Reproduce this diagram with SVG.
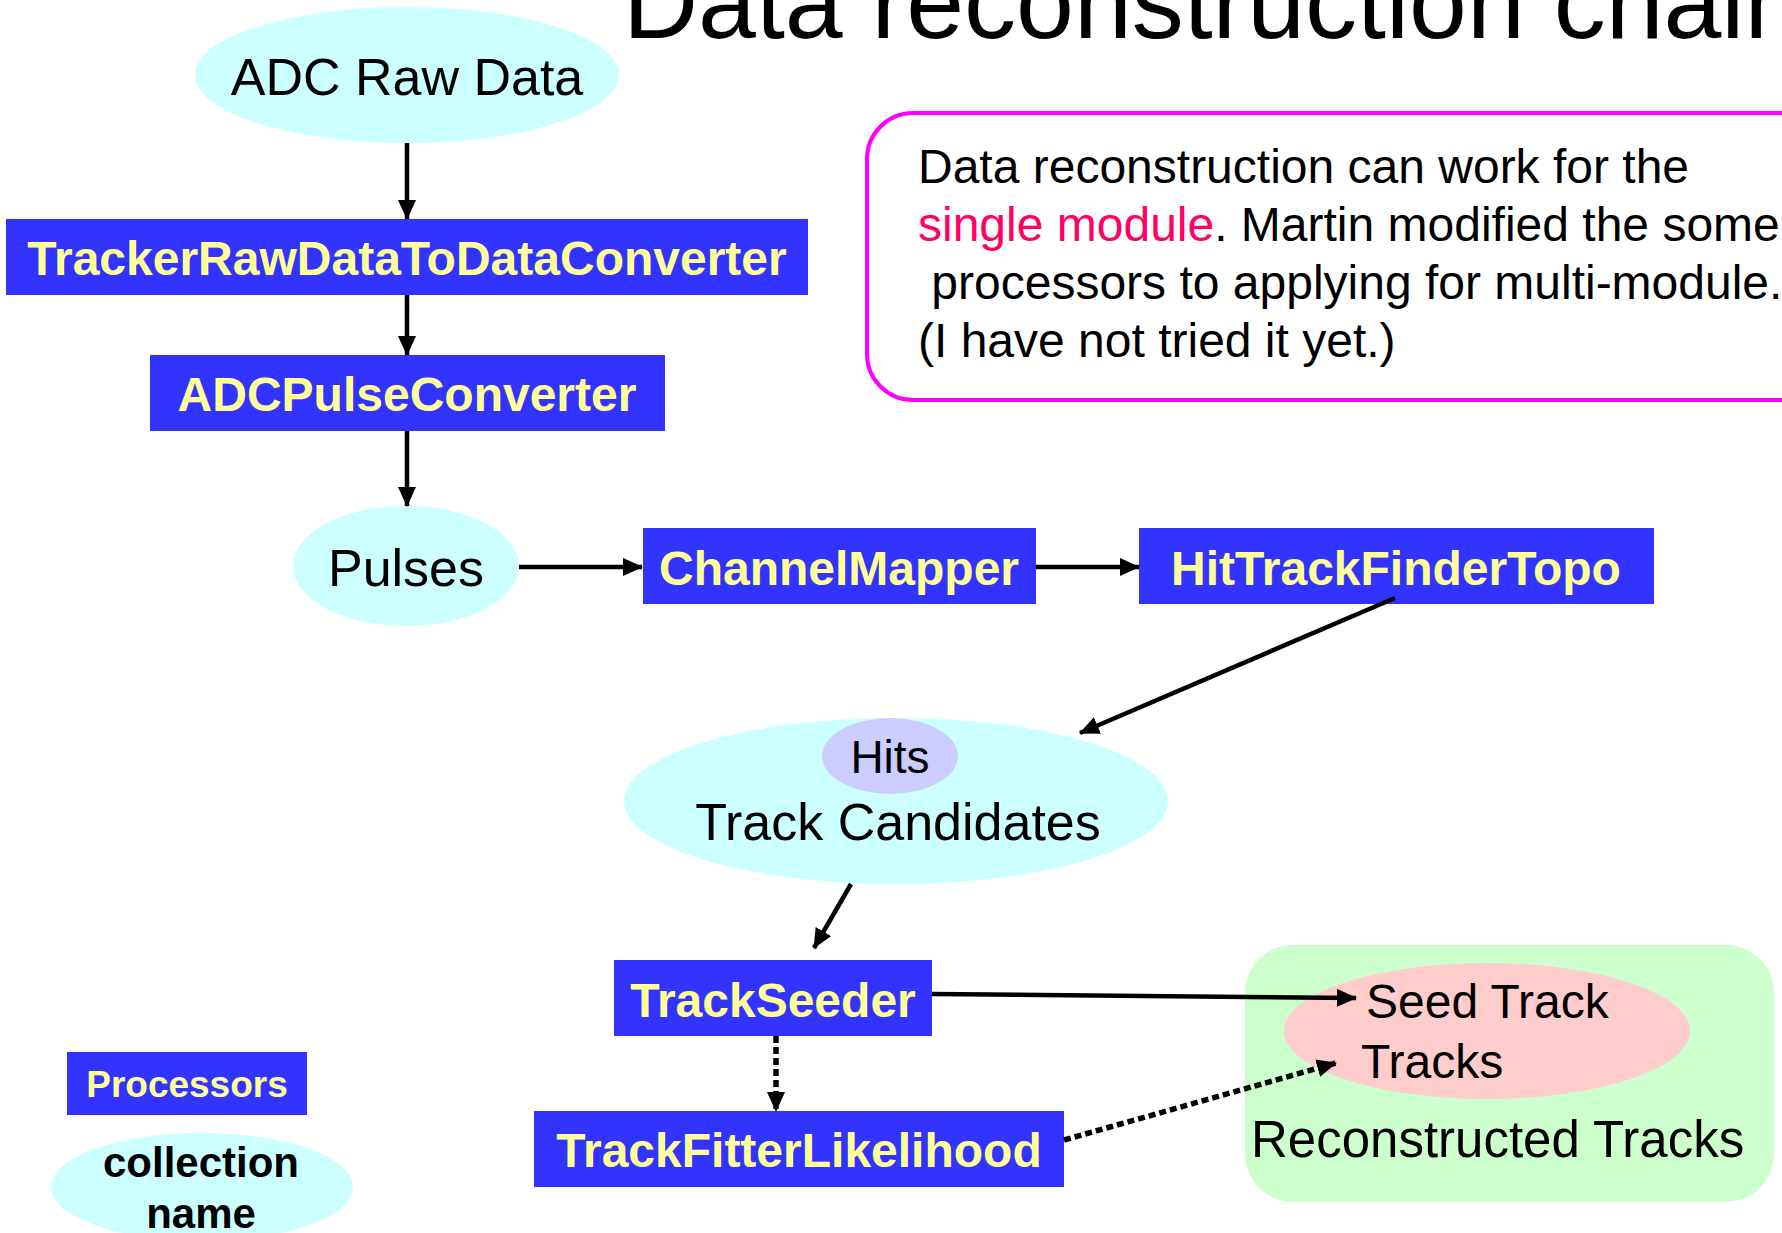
<svg xmlns="http://www.w3.org/2000/svg" width="1782" height="1233" viewBox="0 0 1782 1233">
<defs>
<style>
.proc{fill:#3333FF}
.ptxt{font-family:"Liberation Sans",Arial,sans-serif;font-weight:bold;fill:#FFFF99;text-anchor:middle}
.coll{fill:#CCFFFF}
.txt{font-family:"Liberation Sans",Arial,sans-serif;fill:#000}
.mid{text-anchor:middle}
.conn{stroke:#000;fill:none;stroke-width:4.5}
.dot{stroke-dasharray:7 4;stroke-width:5.5}
</style>
<marker id="ah" markerUnits="userSpaceOnUse" markerWidth="20" markerHeight="18" refX="19" refY="9" orient="auto">
<path d="M0,0 L20,9 L0,18 z" fill="#000"/>
</marker>
</defs>
<rect width="1782" height="1233" fill="#fff"/>

<text class="txt" x="623" y="38" font-size="104">Data reconstruction chain</text>

<g id="note">
<rect x="867" y="113" width="960" height="287" rx="46" ry="46" fill="#fff" stroke="#FF00FF" stroke-width="4"/>
<text class="txt" font-size="48">
<tspan x="918" y="183">Data reconstruction can work for the</tspan>
<tspan x="918" y="241"><tspan fill="#FF0066">single module</tspan>. Martin modified the some</tspan>
<tspan x="918" y="299" xml:space="preserve"> processors to applying for multi-module.</tspan>
<tspan x="918" y="357">(I have not tried it yet.)</tspan>
</text>
</g>

<g id="adc-raw-data">
<ellipse class="coll" cx="407" cy="75" rx="212" ry="68"/>
<text class="txt mid" x="407" y="95" font-size="52">ADC Raw Data</text>
</g>

<g id="tracker-raw">
<rect class="proc" x="6" y="219" width="802" height="76"/>
<text class="ptxt" x="407" y="275" font-size="48">TrackerRawDataToDataConverter</text>
</g>

<g id="adc-pulse">
<rect class="proc" x="150" y="355" width="515" height="76"/>
<text class="ptxt" x="407" y="411" font-size="48">ADCPulseConverter</text>
</g>

<g id="pulses">
<ellipse class="coll" cx="406" cy="566" rx="113" ry="60"/>
<text class="txt mid" x="406" y="586" font-size="52">Pulses</text>
</g>

<g id="channel-mapper">
<rect class="proc" x="643" y="528" width="393" height="76"/>
<text class="ptxt" x="839" y="585" font-size="48">ChannelMapper</text>
</g>

<g id="hit-track-finder">
<rect class="proc" x="1139" y="528" width="515" height="76"/>
<text class="ptxt" x="1396" y="585" font-size="48">HitTrackFinderTopo</text>
</g>

<g id="track-candidates">
<ellipse class="coll" cx="896" cy="801" rx="272" ry="83"/>
<ellipse cx="890" cy="756" rx="68" ry="38" fill="#CCCCFF"/>
<text class="txt mid" x="890" y="773" font-size="46">Hits</text>
<text class="txt mid" x="898" y="840" font-size="52">Track Candidates</text>
</g>

<g id="track-seeder">
<rect class="proc" x="614" y="960" width="318" height="76"/>
<text class="ptxt" x="773" y="1017" font-size="48">TrackSeeder</text>
</g>

<g id="track-fitter">
<rect class="proc" x="534" y="1111" width="530" height="76"/>
<text class="ptxt" x="799" y="1167" font-size="48">TrackFitterLikelihood</text>
</g>

<g id="reconstructed-tracks">
<rect x="1245" y="945" width="529" height="257" rx="48" ry="48" fill="#CCFFCC"/>
<ellipse cx="1487" cy="1031" rx="203" ry="68" fill="#FFCCCC"/>
<text class="txt" x="1366" y="1018" font-size="48">Seed Track</text>
<text class="txt" x="1361" y="1078" font-size="48">Tracks</text>
<text class="txt" x="1251" y="1157" font-size="51">Reconstructed Tracks</text>
</g>

<g id="legend-processors">
<rect class="proc" x="67" y="1052" width="240" height="63"/>
<text class="ptxt" x="187" y="1097" font-size="37">Processors</text>
</g>

<g id="legend-collection">
<ellipse class="coll" cx="202" cy="1187" rx="151" ry="54"/>
<text class="txt mid" x="201" y="1177" font-size="42" font-weight="bold">collection</text>
<text class="txt mid" x="201" y="1228" font-size="42" font-weight="bold">name</text>
</g>

<g id="connectors">
<line class="conn" x1="407" y1="143" x2="407" y2="219" marker-end="url(#ah)"/>
<line class="conn" x1="407" y1="295" x2="407" y2="355" marker-end="url(#ah)"/>
<line class="conn" x1="407" y1="431" x2="407" y2="506" marker-end="url(#ah)"/>
<line class="conn" x1="519" y1="567" x2="642" y2="567" marker-end="url(#ah)" stroke-width="5.5"/>
<line class="conn" x1="1036" y1="567" x2="1139" y2="567" marker-end="url(#ah)" stroke-width="5.5"/>
<line class="conn" x1="1395" y1="598" x2="1080" y2="733" marker-end="url(#ah)"/>
<line class="conn" x1="851" y1="884" x2="814" y2="948" marker-end="url(#ah)"/>
<line class="conn" x1="932" y1="994" x2="1356" y2="998" marker-end="url(#ah)" stroke-width="5"/>
<line class="conn dot" x1="776" y1="1036" x2="776" y2="1111" marker-end="url(#ah)"/>
<line class="conn dot" x1="1064" y1="1140" x2="1336" y2="1063" marker-end="url(#ah)"/>
</g>
</svg>
